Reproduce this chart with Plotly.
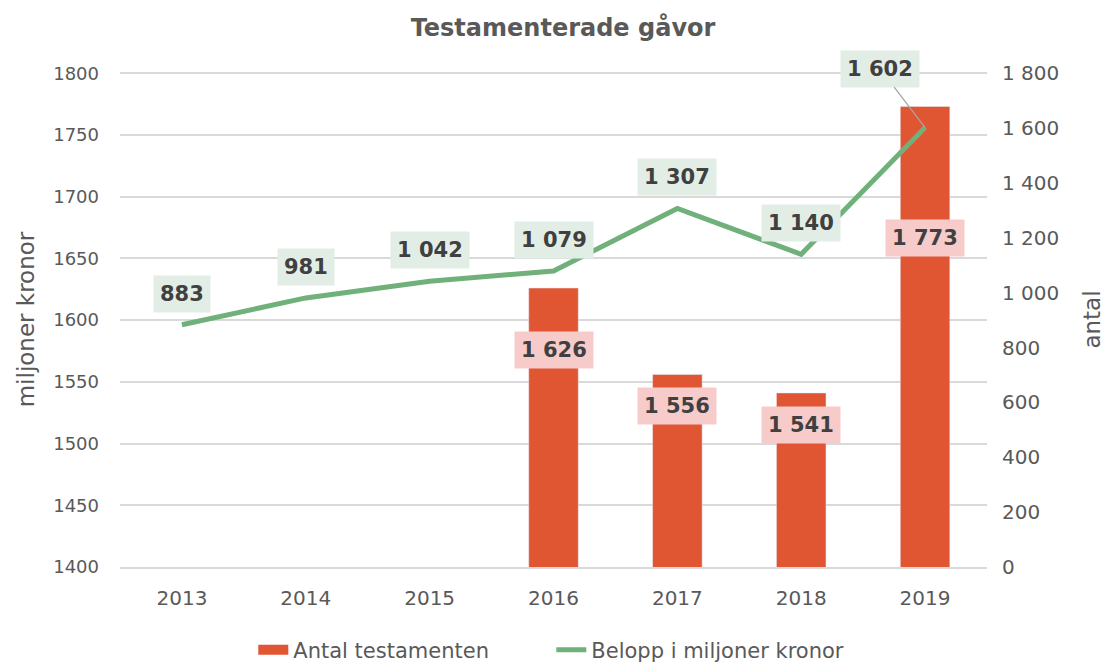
import plotly.graph_objects as go

years = [2013, 2014, 2015, 2016, 2017, 2018, 2019]
antal = [None, None, None, 1626, 1556, 1541, 1773]
belopp = [883, 981, 1042, 1079, 1307, 1140, 1602]
left_ticks = [1400, 1450, 1500, 1550, 1600, 1650, 1700, 1750, 1800]
right_ticks = [0, 200, 400, 600, 800, 1000, 1200, 1400, 1600, 1800]

def fmt(v):
    return f"{v:,}".replace(",", " ")

FONT = "DejaVu Sans"
LBL = dict(family=FONT, size=21, color="#404040")
BAR_C = "#e05532"
LINE_C = "#70b07a"
fig = go.Figure()
fig.add_trace(go.Bar(x=years, y=antal, name="Antal testamenten",
                     marker_color=BAR_C, width=0.4, yaxis="y", showlegend=False,
                     legendgroup="a"))
# legend proxy for a wide rectangular swatch
fig.add_trace(go.Scatter(x=[None], y=[None], name="Antal testamenten", mode="lines",
                         line=dict(color=BAR_C, width=15), legendgroup="a",
                         yaxis="y"))
fig.add_trace(go.Scatter(x=years, y=belopp, name="Belopp i miljoner kronor",
                         mode="lines", line=dict(color=LINE_C, width=5),
                         yaxis="y2"))

ann = []
bar_shift = {3: -62, 4: -32, 5: -32, 6: -131}
for i, v in enumerate(antal):
    if v is None:
        continue
    ann.append(dict(x=years[i], y=v, xref="x", yref="y", text=f"<b>{fmt(v)}</b>",
                    showarrow=False, yshift=bar_shift[i], bgcolor="#f8cbcb",
                    borderpad=6, font=LBL))
for i, v in enumerate(belopp):
    if i == len(belopp) - 1:
        ann.append(dict(x=years[i], y=v, xref="x", yref="y2", text=f"<b>{fmt(v)}</b>",
                        showarrow=True, arrowhead=0, arrowwidth=1.3, arrowcolor="#a6a6a6",
                        ax=-45, ay=-59, bgcolor="#e2eee5", borderpad=6, font=LBL))
    else:
        ann.append(dict(x=years[i], y=v, xref="x", yref="y2", text=f"<b>{fmt(v)}</b>",
                        showarrow=False, yshift=31, bgcolor="#e2eee5", borderpad=6,
                        font=LBL))

fig.update_layout(
    width=1110, height=666,
    paper_bgcolor="white", plot_bgcolor="white",
    margin=dict(l=112, r=131, t=64, b=107, autoexpand=False),
    title=dict(text="<b>Testamenterade gåvor</b>", x=0.5, xanchor="center",
               y=0.970, yanchor="middle",
               font=dict(family=FONT, size=24, color="#595959")),
    font=dict(family=FONT, color="#595959"),
    xaxis=dict(range=[years[0] - 0.5, years[-1] + 0.5], tickvals=years,
               ticktext=[str(y) for y in years], showgrid=False, zeroline=False,
               showline=True, linecolor="#d9d9d9",
               linewidth=1.5, tickfont=dict(size=20, color="#595959"), ticks="",
               ticklabelstandoff=12),
    yaxis=dict(range=[1400, 1801], tickvals=left_ticks,
               ticktext=[str(t) for t in left_ticks], showgrid=True,
               gridcolor="#d9d9d9", gridwidth=1.5, zeroline=False,
               tickfont=dict(size=18, color="#595959"), ticklabelstandoff=20,
               title=dict(text="miljoner kronor", standoff=12,
                          font=dict(size=23, color="#595959"))),
    yaxis2=dict(range=[0, 1804.5], tickvals=right_ticks,
                ticktext=[fmt(t) for t in right_ticks], overlaying="y",
                side="right", showgrid=False, zeroline=False,
                tickfont=dict(size=20, color="#595959"), ticklabelstandoff=14,
                title=dict(text="antal", standoff=25,
                           font=dict(size=23, color="#595959"))),
    legend=dict(orientation="h", xref="container", yref="container",
                x=0.221, xanchor="left", y=0.036, yanchor="middle",
                font=dict(size=21, color="#595959"), traceorder="normal",
                entrywidth=253, entrywidthmode="pixels"),
    annotations=ann,
)
fig.write_html("out.html")
